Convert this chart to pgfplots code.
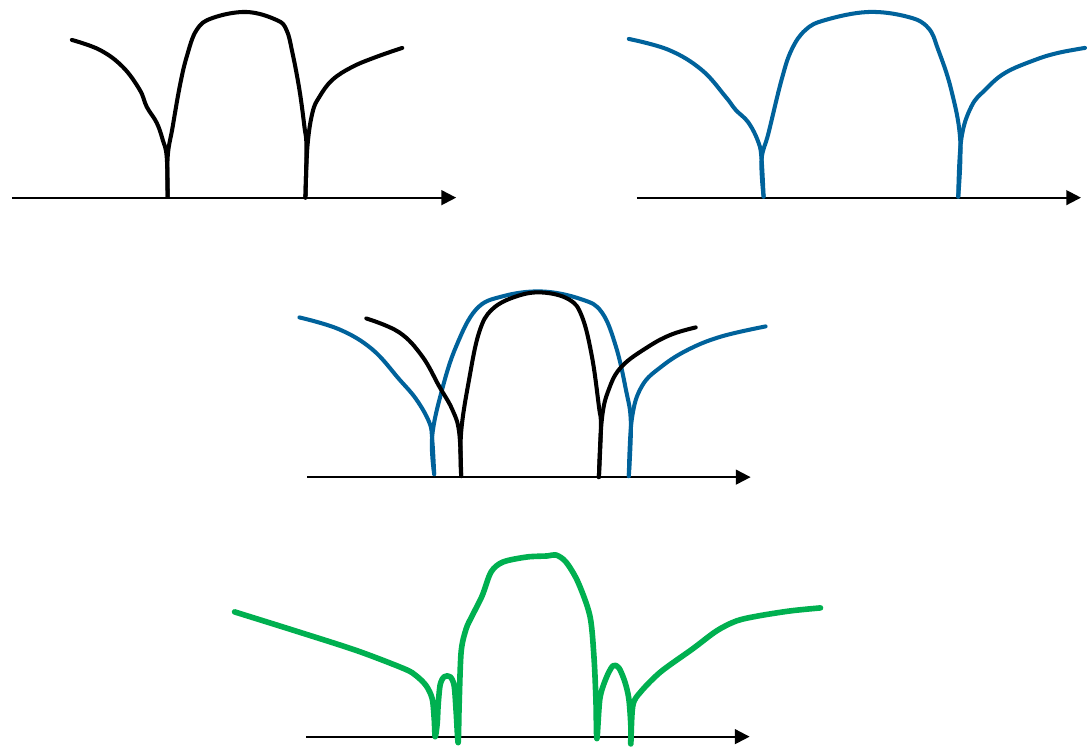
\documentclass[border=0pt]{standalone}
\usepackage{pgfplots}
\pgfplotsset{compat=1.18}
\usetikzlibrary{arrows.meta}
\definecolor{myblue}{RGB}{0,98,155}
\definecolor{mygreen}{RGB}{0,176,80}
\begin{document}
\begin{tikzpicture}
\begin{axis}[hide axis, scale only axis, width=10.87cm, height=7.48cm,
  xmin=0, xmax=1087, ymin=0, ymax=748, y dir=reverse, clip=false, no markers,
  ax/.style={black, line width=0.6pt, -{Triangle[length=4.2pt,width=4.2pt]}},
  bk/.style={black, line width=1.15pt, smooth, tension=0.65, line cap=round, line join=round},
  bl/.style={myblue, line width=1.15pt, smooth, tension=0.65, line cap=round, line join=round},
  gr/.style={mygreen, line width=1.6pt, smooth, tension=0.5, line cap=round, line join=round}]
\addplot[draw=none] coordinates {(0,0) (1087,748)};
% axes
\addplot[ax] coordinates {(12,198) (457,198)};
\addplot[ax] coordinates {(638,198) (1083,198)};
\addplot[ax] coordinates {(308,478) (752,478)};
\addplot[ax] coordinates {(307,738) (751,738)};
% panel 1 black
\addplot[bk] coordinates {(72,40) (100,50) (123,67) (140,90) (147,107) (157,123) (163,140) (167,157) (168,197)};
\addplot[bk] coordinates {(168,197) (168,157) (173,127) (180,87) (187,57) (197,30) (213,18) (247,12) (277,20) (287,30) (293,53) (300,90) (305,127) (307,147) (306,198)};
\addplot[bk] coordinates {(306,198) (308,147) (313,113) (320,97) (333,80) (353,67) (377,57) (403,48)};
% panel 2 blue
\addplot[bl] coordinates {(630,39) (670,50) (703,70) (727,97) (737,110) (750,123) (760,143) (763,160) (765,197)};
\addplot[bl] coordinates {(765,197) (763,160) (770,133) (783,80) (793,50) (807,30) (827,20) (870,12) (910,17) (930,28) (940,50) (953,90) (962,140) (960,197)};
\addplot[bl] coordinates {(960,197) (963,140) (973,107) (987,90) (1007,73) (1037,60) (1060,53) (1087,48)};
% panel 3 blue
\addplot[bl] coordinates {(300,318) (340,330) (373,350) (400,380) (417,400) (430,423) (433,440) (435,475)};
\addplot[bl] coordinates {(435,475) (433,437) (443,390) (457,347) (477,310) (503,297) (543,292) (583,300) (603,313) (617,347) (627,390) (632,423) (630,477)};
\addplot[bl] coordinates {(630,477) (633,420) (643,387) (663,367) (690,350) (723,337) (767,327)};
% panel 3 black
\addplot[bk] coordinates {(367,319) (400,333) (423,357) (440,387) (453,410) (460,433) (462,477)};
\addplot[bk] coordinates {(462,477) (462,433) (470,380) (480,333) (493,310) (517,297) (543,293) (570,300) (583,317) (593,357) (600,407) (602,427) (600,478)};
\addplot[bk] coordinates {(600,478) (603,420) (610,390) (623,367) (650,347) (673,335) (697,328)};
% panel 4 green
\addplot[gr] coordinates {(235,613) (299,633) (358,652) (405,670) (417,677) (427,687) (433,700) (435,720) (436,738)
 (438,725) (439,706) (441,686) (445,678) (451,678) (455,687) (457,713) (459,744)
 (460,706) (462,653) (467,630) (473,617) (483,597) (492,573) (504,563) (528,558) (548,557) (557,556) (567,563) (579,583) (591,617) (595,657) (597,700) (598,740)
 (601,700) (607,680) (614,667) (620,669) (626,683) (630,700) (632,727) (632,745)
 (634,707) (642,693) (662,673) (694,650) (718,632) (738,622) (760,617) (792,612) (822,609)};
\end{axis}
\end{tikzpicture}
\end{document}
